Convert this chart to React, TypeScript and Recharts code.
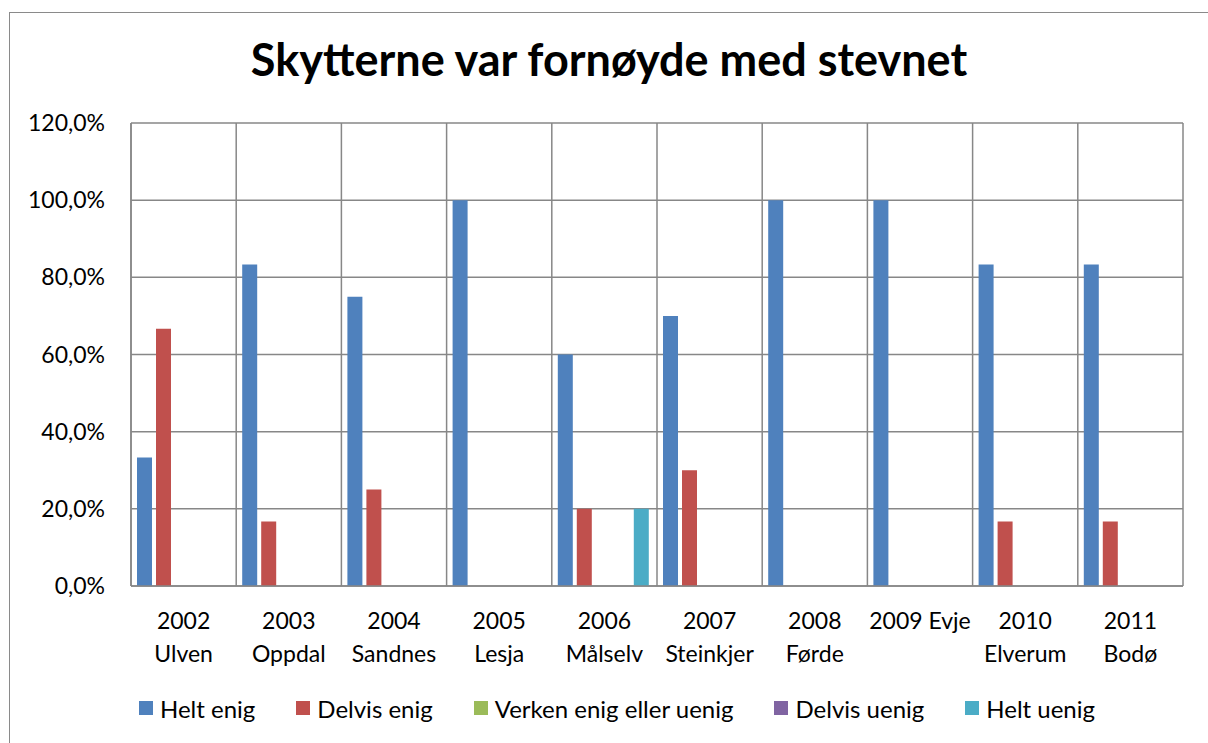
import React from 'react';
import { BarChart, Bar, XAxis, YAxis, CartesianGrid, Legend } from 'recharts';

const categories = [
  '2002 Ulven', '2003 Oppdal', '2004 Sandnes', '2005 Lesja', '2006 Målselv',
  '2007 Steinkjer', '2008 Førde', '2009 Evje', '2010 Elverum', '2011 Bodø',
];

// how the category labels wrap in the original
const tickLines = [
  ['2002', 'Ulven'], ['2003', 'Oppdal'], ['2004', 'Sandnes'], ['2005', 'Lesja'], ['2006', 'Målselv'],
  ['2007', 'Steinkjer'], ['2008', 'Førde'], ['2009 Evje'], ['2010', 'Elverum'], ['2011', 'Bodø'],
];

const heltEnig = [0.333, 0.833, 0.75, 1.0, 0.6, 0.7, 1.0, 1.0, 0.833, 0.833];
const delvisEnig = [0.667, 0.167, 0.25, 0, 0.2, 0.3, 0, 0, 0.167, 0.167];
const verken = [0, 0, 0, 0, 0, 0, 0, 0, 0, 0];
const delvisUenig = [0, 0, 0, 0, 0, 0, 0, 0, 0, 0];
const heltUenig = [0, 0, 0, 0, 0.2, 0, 0, 0, 0, 0];

const yTicks = [0, 0.2, 0.4, 0.6, 0.8, 1.0, 1.2];

const series = [
  { key: 'heltEnig', name: 'Helt enig', color: '#4F81BD' },
  { key: 'delvisEnig', name: 'Delvis enig', color: '#C0504D' },
  { key: 'verken', name: 'Verken enig eller uenig', color: '#9BBB59' },
  { key: 'delvisUenig', name: 'Delvis uenig', color: '#8064A2' },
  { key: 'heltUenig', name: 'Helt uenig', color: '#4BACC6' },
];

const data = categories.map((name, i) => ({
  name,
  heltEnig: heltEnig[i],
  delvisEnig: delvisEnig[i],
  verken: verken[i],
  delvisUenig: delvisUenig[i],
  heltUenig: heltUenig[i],
}));

const FONT = 'Lato, "Open Sans", sans-serif';
const GRID = '#878787';

const pct = (v: number) => (v * 100).toFixed(1).replace('.', ',') + '%';

const CategoryTick = (props: any) => {
  const { x, y, payload } = props;
  const lines = tickLines[payload.index] || [payload.value];
  return (
    <text x={x} y={y} textAnchor="middle" fontFamily={FONT} fontSize={23} fill="#000">
      {lines.map((l, i) => (
        <tspan key={i} x={x} dy={i === 0 ? 41 : 33}>{l}</tspan>
      ))}
    </text>
  );
};

const LegendContent = () => (
  <div style={{ display: 'flex', justifyContent: 'center', alignItems: 'center', fontFamily: FONT, fontSize: 24, color: '#000', height: 40 }}>
    {series.map((s, i) => (
      <div key={s.key} style={{ display: 'flex', alignItems: 'center', marginLeft: i === 0 ? 0 : 41 }}>
        <span style={{ display: 'inline-block', width: 14, height: 14, background: s.color, marginRight: 7 }} />
        <span>{s.name}</span>
      </div>
    ))}
  </div>
);

export default function App() {
  return (
    <div style={{ position: 'absolute', left: 0, top: 0, width: 1208, height: 743, overflow: 'hidden', background: '#fff' }}>
      <div style={{ position: 'absolute', left: 9, top: 12, width: 1400, height: 900, border: '1.5px solid #8a8a8a' }} />
      <div style={{ position: 'absolute', left: 0, top: 37, width: 1218, textAlign: 'center', fontFamily: FONT, fontWeight: 700, fontSize: 45, lineHeight: '45px', color: '#000' }}>
        Skytterne var fornøyde med stevnet
      </div>
      <div style={{ position: 'absolute', left: 0, top: 0 }}>
        <BarChart
          width={1208}
          height={743}
          data={data}
          margin={{ top: 123, right: 25, left: 0, bottom: 15 }}
          barCategoryGap={6}
          barGap={4}
        >
          <CartesianGrid
            stroke={GRID}
            strokeWidth={1.5}
            verticalCoordinatesGenerator={({ offset }: any) => {
              const left = offset ? offset.left : 131;
              const w = offset ? offset.width : 1052;
              return categories.map((_, i) => left + (i * w) / categories.length).concat(left + w);
            }}
          />
          <XAxis
            dataKey="name"
            height={102}
            tick={<CategoryTick />}
            tickLine={false}
            tickSize={0}
            interval={0}
            axisLine={{ stroke: GRID, strokeWidth: 1.5 }}
          />
          <YAxis
            width={131}
            domain={[0, 1.2]}
            ticks={yTicks}
            tickFormatter={pct}
            tickLine={false}
            tickSize={6}
            tickMargin={20}
            axisLine={{ stroke: GRID, strokeWidth: 1.5 }}
            tick={{ fontFamily: FONT, fontSize: 23, fill: '#000' }}
          />
          <Legend
            verticalAlign="bottom"
            height={40}
            content={<LegendContent />}
            wrapperStyle={{ left: 13, width: 1208 }}
          />
          {series.map((s) => (
            <Bar key={s.key} dataKey={s.key} name={s.name} fill={s.color} isAnimationActive={false} />
          ))}
        </BarChart>
      </div>
    </div>
  );
}
